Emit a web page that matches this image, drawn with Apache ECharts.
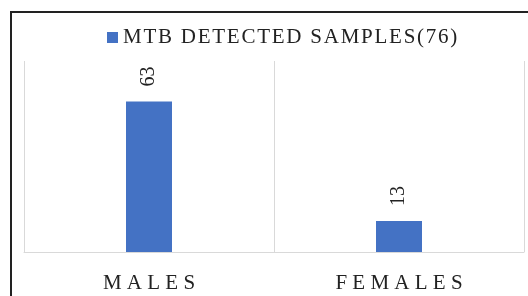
<!DOCTYPE html>
<html>
<head>
<meta charset="utf-8">
<script src="https://cdn.jsdelivr.net/npm/echarts@6/dist/echarts.min.js"></script>
<style>
  html, body { margin: 0; padding: 0; background: #fff; }
  #chart { width: 528px; height: 296px; }
</style>
</head>
<body>
<div id="chart"></div>
<script>
const categories = ["MALES", "FEMALES"];
const seriesName = "MTB DETECTED SAMPLES(76)";
const values = [63, 13];

const myChart = echarts.init(document.getElementById("chart"));

// spread letters out a bit, like the original's stretched serif text
const spread = (s, gap) => s.split("").join(gap);

const option = {
  animation: false,
  backgroundColor: "#fff",
  graphic: [
    {
      // outer frame
      type: "rect",
      shape: { x: 11, y: 12, width: 540, height: 300 },
      style: { fill: "none", stroke: "#222", lineWidth: 2 },
      silent: true,
    },
  ],
  legend: {
    top: 22,
    left: 102,
    itemWidth: 11,
    itemHeight: 11,
    itemGap: 4,
    icon: "rect",
    formatter: (name) => spread(name, "\u200a"),
    textStyle: {
      fontFamily: "Liberation Serif",
      fontSize: 21,
      color: "#222",
    },
    data: [seriesName],
  },
  grid: {
    left: 24,
    right: 4,
    top: 61,
    bottom: 44,
  },
  xAxis: {
    type: "category",
    data: categories,
    axisLine: { lineStyle: { color: "#d9d9d9", width: 1 } },
    axisTick: { show: false },
    splitLine: { show: true, lineStyle: { color: "#d9d9d9" } },
    axisLabel: {
      margin: 21,
      fontFamily: "Liberation Serif",
      fontSize: 21,
      color: "#222",
      formatter: (v) => spread(v, " "),
    },
  },
  yAxis: {
    type: "value",
    min: 0,
    max: 80,
    show: false,
    splitLine: { show: false },
  },
  series: [
    {
      name: seriesName,
      type: "bar",
      data: values,
      barWidth: 46,
      itemStyle: { color: "#4472c4" },
      label: {
        show: true,
        position: "top",
        rotate: 90,
        distance: 15,
        align: "left",
        verticalAlign: "middle",
        fontFamily: "Liberation Serif",
        fontSize: 20,
        color: "#222",
      },
    },
  ],
};

myChart.setOption(option);
</script>
</body>
</html>
